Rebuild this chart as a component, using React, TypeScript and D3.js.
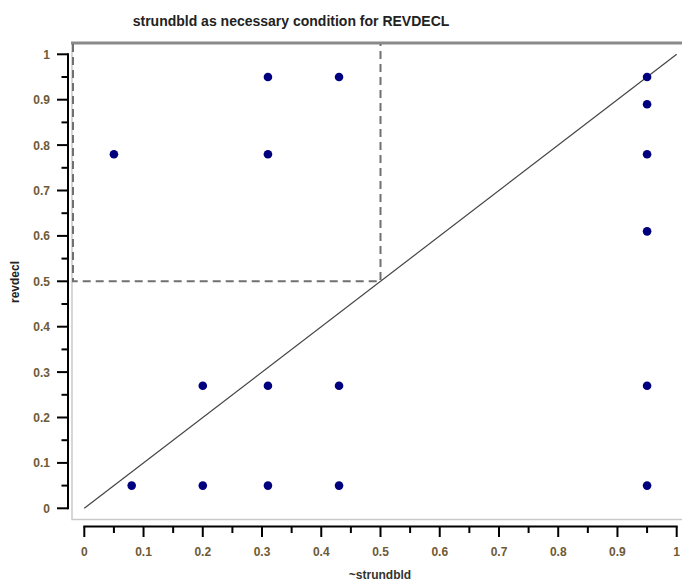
import React, { useEffect, useRef } from 'react';
import * as d3 from 'd3';

// Cases: ~strundbld (x) vs revdecl (y)
const notStrundbld = [0.05, 0.31, 0.43, 0.31, 0.95, 0.95, 0.95, 0.95, 0.2, 0.31, 0.43, 0.95, 0.08, 0.2, 0.31, 0.43, 0.95];
const revdecl = [0.78, 0.95, 0.95, 0.78, 0.95, 0.89, 0.78, 0.61, 0.27, 0.27, 0.27, 0.27, 0.05, 0.05, 0.05, 0.05, 0.05];

const majorTicks = [0, 0.1, 0.2, 0.3, 0.4, 0.5, 0.6, 0.7, 0.8, 0.9, 1];
const minorTicks = [0.05, 0.15, 0.25, 0.35, 0.45, 0.55, 0.65, 0.75, 0.85, 0.95];
const tickLabels = ['0', '0.1', '0.2', '0.3', '0.4', '0.5', '0.6', '0.7', '0.8', '0.9', '1'];
const threshold = 0.5;

const title = 'strundbld as necessary condition for REVDECL';
const xTitle = '~strundbld';
const yTitle = 'revdecl';

const App = () => {
    const svgRef = useRef<SVGSVGElement>(null);

    useEffect(() => {
        const width = 682;
        const height = 583;
        const svg = d3.select(svgRef.current);
        svg.selectAll('*').remove();
        svg.attr('width', width).attr('height', height);

        const font = 'Liberation Sans, Arial, sans-serif';
        const labelColor = '#6e5a36';

        // scales
        const x = d3.scaleLinear().domain([0, 1]).range([84.3, 676.7]);
        const y = d3.scaleLinear().domain([0, 1]).range([508.3, 54.3]);

        // plot frame
        const frameLeft = 72;
        const frameTop = 43;
        const frameBottom = 519.5;
        svg.append('path')
            .attr('d', `M${width + 2},${frameBottom}H${frameLeft}V${frameTop}`)
            .attr('fill', 'none')
            .attr('stroke', '#c9c9c9')
            .attr('stroke-width', 1.5);
        svg.append('line')
            .attr('x1', frameLeft - 1).attr('x2', width + 2)
            .attr('y1', frameTop).attr('y2', frameTop)
            .attr('stroke', '#8a8a8a')
            .attr('stroke-width', 3);

        // necessity region (dashed box)
        svg.append('path')
            .attr('d', `M${frameLeft + 1},${frameTop + 1}V${y(threshold)}H${x(threshold)}V${frameTop + 1}`)
            .attr('fill', 'none')
            .attr('stroke', '#707070')
            .attr('stroke-width', 2)
            .attr('stroke-dasharray', '8,5');

        // diagonal
        svg.append('line')
            .attr('x1', x(0)).attr('y1', y(0))
            .attr('x2', x(1)).attr('y2', y(1))
            .attr('stroke', '#444')
            .attr('stroke-width', 1.2);

        // points
        svg.append('g')
            .selectAll('circle')
            .data(notStrundbld.map((v, i) => [v, revdecl[i]]))
            .enter()
            .append('circle')
            .attr('cx', d => x(d[0]))
            .attr('cy', d => y(d[1]))
            .attr('r', 4.3)
            .attr('fill', '#00007f');

        // y axis
        const yAxisX = 68;
        svg.append('line')
            .attr('x1', yAxisX).attr('x2', yAxisX)
            .attr('y1', y(1) - 1).attr('y2', y(0) + 1)
            .attr('stroke', '#000').attr('stroke-width', 2);
        svg.append('g').selectAll('line').data(majorTicks).enter().append('line')
            .attr('x1', 57).attr('x2', yAxisX)
            .attr('y1', d => y(d)).attr('y2', d => y(d))
            .attr('stroke', '#000').attr('stroke-width', 2);
        svg.append('g').selectAll('line').data(minorTicks).enter().append('line')
            .attr('x1', 61.5).attr('x2', yAxisX)
            .attr('y1', d => y(d)).attr('y2', d => y(d))
            .attr('stroke', '#000').attr('stroke-width', 2);
        svg.append('g').selectAll('text').data(majorTicks).enter().append('text')
            .attr('x', 50).attr('y', d => y(d) + 4.5)
            .attr('text-anchor', 'end')
            .attr('font-family', font).attr('font-size', 12).attr('font-weight', 'bold')
            .attr('fill', labelColor)
            .text((d, i) => tickLabels[i]);

        // x axis
        const xAxisY = 526.5;
        svg.append('line')
            .attr('x1', x(0) - 1).attr('x2', x(1) + 1)
            .attr('y1', xAxisY).attr('y2', xAxisY)
            .attr('stroke', '#000').attr('stroke-width', 2);
        svg.append('g').selectAll('line').data(majorTicks).enter().append('line')
            .attr('x1', d => x(d)).attr('x2', d => x(d))
            .attr('y1', xAxisY).attr('y2', 537)
            .attr('stroke', '#000').attr('stroke-width', 2);
        svg.append('g').selectAll('line').data(minorTicks).enter().append('line')
            .attr('x1', d => x(d)).attr('x2', d => x(d))
            .attr('y1', xAxisY).attr('y2', 533)
            .attr('stroke', '#000').attr('stroke-width', 2);
        svg.append('g').selectAll('text').data(majorTicks).enter().append('text')
            .attr('x', d => x(d)).attr('y', 556)
            .attr('text-anchor', 'middle')
            .attr('font-family', font).attr('font-size', 12).attr('font-weight', 'bold')
            .attr('fill', labelColor)
            .text((d, i) => tickLabels[i]);

        // titles
        svg.append('text')
            .attr('x', 291).attr('y', 26)
            .attr('text-anchor', 'middle')
            .attr('font-family', font).attr('font-size', 14).attr('font-weight', 'bold')
            .attr('fill', '#222')
            .text(title);
        svg.append('text')
            .attr('x', 380).attr('y', 579)
            .attr('text-anchor', 'middle')
            .attr('font-family', font).attr('font-size', 12).attr('font-weight', 'bold')
            .attr('fill', '#333')
            .text(xTitle);
        svg.append('text')
            .attr('transform', 'translate(19,282) rotate(-90)')
            .attr('text-anchor', 'middle')
            .attr('font-family', font).attr('font-size', 12).attr('font-weight', 'bold')
            .attr('fill', '#222')
            .text(yTitle);
    }, []);

    return <svg ref={svgRef} style={{ position: 'absolute', left: 0, top: 0 }}></svg>;
};

export default App;
